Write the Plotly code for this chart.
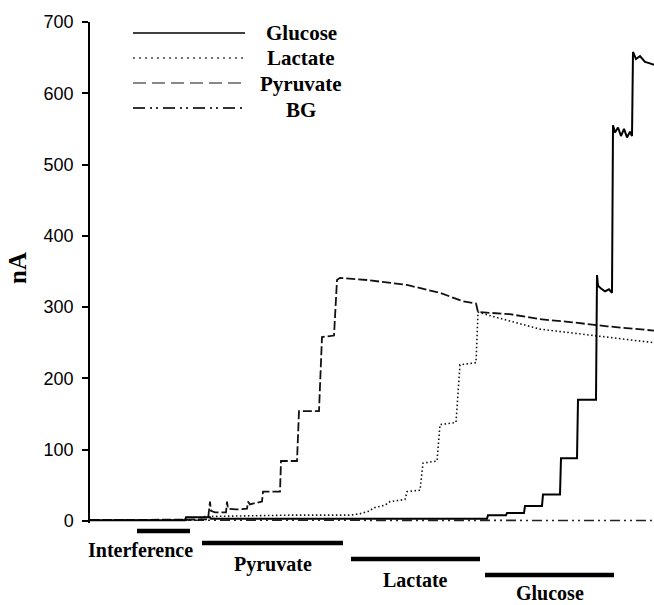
import plotly.graph_objects as go

# ---------------- data (time in arbitrary units, current in nA) ----------------
glucose_t = [0, 95, 96, 120, 121, 397, 398, 416, 417, 434, 435, 452, 453, 470, 471, 487, 488,
             506, 507, 508, 511, 515, 519, 522, 523, 525, 528, 531, 534, 537, 540, 542,
             543, 546, 550, 555, 560, 564]
glucose_v = [1, 1, 5, 5, 3, 3, 8, 8, 11, 11, 21, 21, 37, 37, 88, 88, 170,
             170, 345, 330, 326, 322, 325, 320, 555, 545, 552, 540, 550, 538, 546, 540,
             658, 648, 652, 644, 642, 640]

lactate_t = [0, 110, 112, 200, 260, 270, 280, 283, 295, 300, 315, 317, 330, 333, 347, 350,
             366, 370, 386, 388, 400, 420, 450, 480, 517, 540, 564]
lactate_v = [1, 1, 6, 8, 8, 10, 14, 18, 22, 27, 30, 41, 43, 81, 84, 135,
             138, 219, 222, 293, 288, 280, 269, 264, 258, 254, 250]

pyruvate_t = [0, 118, 120, 121, 125, 136, 137, 138, 146, 157, 158, 160, 165, 172, 173, 190,
              191, 207, 209, 229, 232, 244, 247, 250, 277, 317, 350, 373, 386, 388, 420,
              450, 480, 517, 564]
pyruvate_v = [1, 2, 27, 14, 12, 12, 27, 17, 16, 17, 27, 23, 25, 27, 41, 41,
              84, 84, 154, 154, 258, 260, 338, 341, 338, 331, 320, 308, 305, 293, 290,
              283, 279, 273, 267]

bg_t = [0, 300, 564]
bg_v = [1, 1, 0.5]

# injection periods (start, end, label)
periods = ["Interference", "Pyruvate", "Lactate", "Glucose"]
period_start = [47, 112, 261, 395]
period_end = [100, 253, 390, 524]

series_names = ["Glucose", "Lactate", "Pyruvate", "BG"]
y_ticks = [0, 100, 200, 300, 400, 500, 600, 700]

# ---------------- geometry helpers ----------------
W, H = 654, 605
ML, MR, MT, MB = 90, 0, 22, 82
XMAX = 564
YMIN, YMAX = -3, 700
plot_w = W - ML - MR
plot_h = H - MT - MB


def xp(px):
    return (px - ML) / plot_w


def yp(py):
    return (H - MB - py) / plot_h


fig = go.Figure()

fig.add_trace(go.Scatter(x=bg_t, y=bg_v, mode="lines", name="BG",
                         line=dict(color="#222", width=1.6, dash="10px,4px,2px,4px,2px,4px")))
fig.add_trace(go.Scatter(x=pyruvate_t, y=pyruvate_v, mode="lines", name="Pyruvate",
                         line=dict(color="#111", width=1.8, dash="9px,3px")))
fig.add_trace(go.Scatter(x=lactate_t, y=lactate_v, mode="lines", name="Lactate",
                         line=dict(color="#111", width=1.6, dash="1.5px,2.5px")))
fig.add_trace(go.Scatter(x=glucose_t, y=glucose_v, mode="lines", name="Glucose",
                         line=dict(color="#000", width=2)))

shapes = []
annotations = []

# manual legend
leg_y = [33, 58, 83, 108]
leg_txt_y = [33, 58, 84, 110]
leg_style = [
    dict(color="#000", width=1.6, dash="solid"),
    dict(color="#444", width=1.6, dash="2px,4px"),
    dict(color="#888", width=2, dash="13px,6px"),
    dict(color="#333", width=2, dash="12px,5px,2px,4px,2px,5px"),
]
for name, ly, ty, st in zip(series_names, leg_y, leg_txt_y, leg_style):
    shapes.append(dict(type="line", xref="paper", yref="paper",
                       x0=xp(133), x1=xp(245), y0=yp(ly), y1=yp(ly), line=st))
    annotations.append(dict(text="<b>%s</b>" % name, xref="paper", yref="paper", x=xp(301), y=yp(ty),
                            xanchor="center", yanchor="middle", showarrow=False,
                            font=dict(family="Liberation Serif", size=21, color="#000")))

# injection period bars and labels
bar_y = [531, 543, 559, 575]
lab_y = [550, 564, 580, 597]
for name, s, e, by, ly in zip(periods, period_start, period_end, bar_y, lab_y):
    shapes.append(dict(type="line", xref="paper", yref="paper",
                       x0=s / XMAX, x1=e / XMAX, y0=yp(by), y1=yp(by),
                       line=dict(color="#000", width=4.5)))
    cx = (s + e) / 2 / XMAX
    if name == "Interference":
        cx = xp(140)
    if name == "Glucose":
        annotations.append(dict(text="<b>%s</b>" % name, xref="paper", yref="paper", x=cx, y=yp(606),
                                xanchor="center", yanchor="bottom", showarrow=False,
                                font=dict(family="Liberation Serif", size=20, color="#000")))
    else:
        annotations.append(dict(text="<b>%s</b>" % name, xref="paper", yref="paper", x=cx, y=yp(ly),
                                xanchor="center", yanchor="middle", showarrow=False,
                                font=dict(family="Liberation Serif", size=20, color="#000")))

# y-axis title
annotations.append(dict(text="<b>nA</b>", xref="paper", yref="paper", x=xp(17), y=yp(268),
                        xanchor="center", yanchor="middle", textangle=-90, showarrow=False,
                        font=dict(family="Liberation Serif", size=25, color="#000")))

fig.update_layout(
    width=W, height=H,
    margin=dict(l=ML, r=MR, t=MT, b=MB, pad=0),
    paper_bgcolor="white", plot_bgcolor="white",
    showlegend=False,
    shapes=shapes, annotations=annotations,
    xaxis=dict(range=[0, XMAX], visible=False, showgrid=False, zeroline=False),
    yaxis=dict(range=[YMIN, YMAX], tickvals=y_ticks, ticktext=[str(v) for v in y_ticks],
               showline=True, linecolor="#000", linewidth=1.5, ticks="outside", ticklen=6,
               tickwidth=1.5, tickcolor="#000", showgrid=False, zeroline=False,
               ticklabelstandoff=5,
               tickfont=dict(family="Liberation Sans", size=18, color="#000")),
)

fig.write_html("out.html")
